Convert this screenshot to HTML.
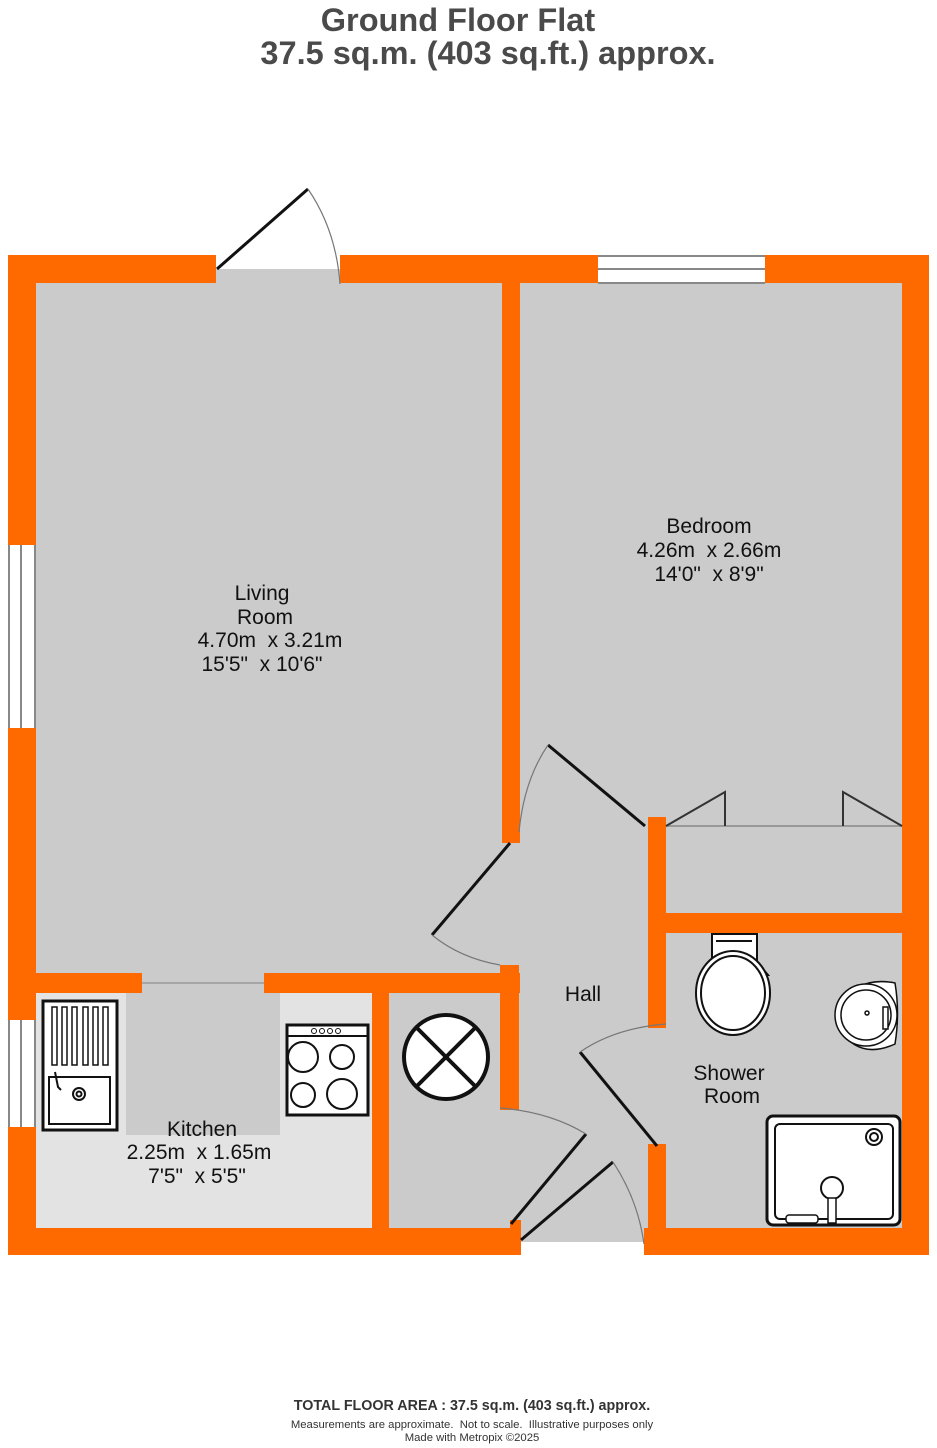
<!DOCTYPE html>
<html><head><meta charset="utf-8"><style>
html,body{margin:0;padding:0;background:#fff}
svg{display:block}
text{font-family:"Liberation Sans",sans-serif;white-space:pre}
</style></head><body>
<svg width="937" height="1448" viewBox="0 0 937 1448" xmlns="http://www.w3.org/2000/svg" xml:space="preserve">
<rect width="937" height="1448" fill="#fff"/>
<text x="458" y="31" font-size="32.5" font-weight="bold" fill="#4a4a4a" text-anchor="middle">Ground Floor Flat</text>
<text x="488" y="64" font-size="32.5" font-weight="bold" fill="#4a4a4a" text-anchor="middle">37.5 sq.m. (403 sq.ft.) approx.</text>

<rect x="36" y="283" width="866" height="945" fill="#cbcbcb"/>
<rect x="216" y="269" width="124" height="14" fill="#cbcbcb"/>
<rect x="521" y="1228" width="123" height="14" fill="#cbcbcb"/>
<rect x="36" y="993" width="336" height="235" fill="#e3e3e3"/>
<rect x="126" y="993" width="154" height="142" fill="#cbcbcb"/>
<rect x="142" y="973" width="122" height="20" fill="#cbcbcb"/>
<line x1="142" y1="983" x2="264" y2="983" stroke="#999" stroke-width="1.5"/>

<g fill="#ff6a00">
<rect x="8" y="255" width="208" height="28"/>
<rect x="340" y="255" width="589" height="28"/>
<rect x="8" y="255" width="28" height="1000"/>
<rect x="902" y="255" width="27" height="1000"/>
<rect x="8" y="1228" width="513" height="27"/>
<rect x="644" y="1228" width="285" height="27"/>
<rect x="502" y="283" width="18" height="560"/>
<rect x="36" y="973" width="106" height="20"/>
<rect x="264" y="973" width="256" height="20"/>
<rect x="500" y="965" width="19" height="145"/>
<rect x="372" y="993" width="17" height="235"/>
<rect x="648" y="817" width="18" height="211"/>
<rect x="666" y="913" width="236" height="20"/>
<rect x="648" y="1144" width="18" height="84"/>
<rect x="510" y="1220" width="11" height="15"/>
</g>

<g>
<rect x="598" y="256" width="167" height="27" fill="#fff"/>
<line x1="598" y1="256" x2="765" y2="256" stroke="#888" stroke-width="2"/>
<line x1="598" y1="269" x2="765" y2="269" stroke="#888" stroke-width="2"/>
<line x1="598" y1="283" x2="765" y2="283" stroke="#888" stroke-width="2"/>
<rect x="8" y="545" width="28" height="183" fill="#fff"/>
<line x1="9" y1="545" x2="9" y2="728" stroke="#888" stroke-width="2"/>
<line x1="21" y1="545" x2="21" y2="728" stroke="#888" stroke-width="2"/>
<line x1="35" y1="545" x2="35" y2="728" stroke="#888" stroke-width="2"/>
<rect x="8" y="1020" width="28" height="107" fill="#fff"/>
<line x1="9" y1="1020" x2="9" y2="1127" stroke="#888" stroke-width="2"/>
<line x1="21" y1="1020" x2="21" y2="1127" stroke="#888" stroke-width="2"/>
<line x1="35" y1="1020" x2="35" y2="1127" stroke="#888" stroke-width="2"/>
</g>

<g fill="none" stroke="#111" stroke-width="3">
<line x1="217" y1="269" x2="308" y2="189"/>
<line x1="548" y1="745" x2="645" y2="826"/>
<line x1="510" y1="843" x2="432" y2="935"/>
<line x1="580" y1="1052" x2="657" y2="1146"/>
<line x1="511" y1="1224" x2="586" y2="1134"/>
<line x1="521" y1="1240" x2="613" y2="1162"/>
</g>
<g fill="none" stroke="#777" stroke-width="1.2">
<path d="M308 189 Q336 230 340 284"/>
<path d="M548 745 Q524 780 519 832"/>
<path d="M432 935 Q460 958 500 965"/>
<path d="M580 1052 Q615 1028 666 1024"/>
<path d="M500 1108 Q550 1112 586 1134"/>
<path d="M613 1162 Q638 1200 644 1244"/>
</g>

<line x1="666" y1="826" x2="902" y2="826" stroke="#999" stroke-width="2"/>
<g fill="none" stroke="#333" stroke-width="2">
<polyline points="666,826 725,792 725,826"/>
<polyline points="843,826 843,792 902,826"/>
</g>

<g fill="none" stroke="#111" stroke-width="2">
<rect x="43" y="1001" width="74" height="129" fill="#fff" stroke-width="3"/>
<rect x="49" y="1077" width="61" height="47"/>
<circle cx="79" cy="1094" r="6"/><circle cx="79" cy="1094" r="2.5"/>
<path d="M55 1072 L58 1087 L61 1090"/>
</g>
<g fill="#fff" stroke="#111" stroke-width="1.5">
<rect x="52" y="1007" width="5" height="58"/><rect x="62" y="1007" width="5" height="58"/>
<rect x="72" y="1007" width="5" height="58"/><rect x="83" y="1007" width="5" height="58"/>
<rect x="93" y="1007" width="5" height="58"/><rect x="103" y="1007" width="5" height="58"/>
</g>
<g fill="#fff" stroke="#111" stroke-width="2">
<rect x="287" y="1025" width="81" height="90" stroke-width="3"/>
<line x1="287" y1="1036" x2="368" y2="1036"/>
<circle cx="303" cy="1057" r="15"/><circle cx="342" cy="1057" r="12"/>
<circle cx="303" cy="1095" r="12"/><circle cx="342" cy="1094" r="15"/>
<circle cx="314" cy="1031" r="2.5" stroke-width="1"/><circle cx="322" cy="1031" r="2.5" stroke-width="1"/>
<circle cx="330" cy="1031" r="2.5" stroke-width="1"/><circle cx="338" cy="1031" r="2.5" stroke-width="1"/>
</g>
<g fill="#fff" stroke="#111" stroke-width="4">
<circle cx="446" cy="1057" r="42"/>
<line x1="416" y1="1027" x2="476" y2="1087"/><line x1="476" y1="1027" x2="416" y2="1087"/>
</g>
<g fill="#fff" stroke="#111" stroke-width="2">
<path d="M712 934 L757 934 L757 962 L768 975 L712 975 Z"/>
<ellipse cx="733" cy="993" rx="37" ry="42"/>
<ellipse cx="733" cy="993" rx="32" ry="37"/>
<line x1="716" y1="941" x2="752" y2="941"/>
</g>
<g fill="#fff" stroke="#111" stroke-width="1.5">
<path d="M840 1003 Q860 976 895 983 Q900 1013 895 1044 Q860 1060 840 1030 Z"/>
<circle cx="866" cy="1015" r="31"/>
<circle cx="866" cy="1015" r="25"/>
<circle cx="867" cy="1013" r="2"/>
<rect x="883" y="1007" width="5" height="22"/>
</g>
<g fill="#fff" stroke="#111">
<rect x="767" y="1116" width="133" height="109" rx="6" stroke-width="3"/>
<rect x="775" y="1124" width="118" height="95" rx="5" stroke-width="2"/>
<circle cx="874" cy="1137" r="8" stroke-width="2"/><circle cx="874" cy="1137" r="4" stroke-width="2"/>
<circle cx="832" cy="1188" r="11" stroke-width="2"/>
<rect x="828" y="1198" width="8" height="25" stroke-width="1.5"/>
<rect x="786" y="1215" width="32" height="8" rx="3" stroke-width="1.5"/>
</g>

<g font-size="21" fill="#111" text-anchor="middle">
<text x="262" y="600">Living</text>
<text x="265" y="624">Room</text>
<text x="270" y="647">4.70m  x 3.21m</text>
<text x="262" y="671">15'5"  x 10'6"</text>
<text x="709" y="533">Bedroom</text>
<text x="709" y="557">4.26m  x 2.66m</text>
<text x="709" y="581">14'0"  x 8'9"</text>
<text x="583" y="1001">Hall</text>
<text x="729" y="1080">Shower</text>
<text x="732" y="1103">Room</text>
<text x="202" y="1136">Kitchen</text>
<text x="199" y="1159">2.25m  x 1.65m</text>
<text x="197" y="1183">7'5"  x 5'5"</text>
</g>
<g fill="#333" text-anchor="middle">
<text x="472" y="1410" font-size="14.3" font-weight="bold">TOTAL FLOOR AREA : 37.5 sq.m. (403 sq.ft.) approx.</text>
<text x="472" y="1428" font-size="11.3">Measurements are approximate.  Not to scale.  Illustrative purposes only</text>
<text x="472" y="1441" font-size="11.3">Made with Metropix ©2025</text>
</g>
</svg>
</body></html>
